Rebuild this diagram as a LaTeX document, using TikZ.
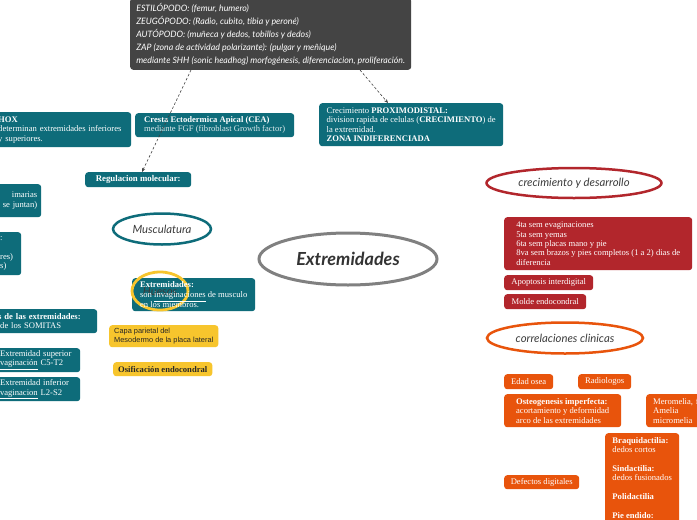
\documentclass[tikz,border=0pt]{standalone}
\usepackage{fontspec}
\setmainfont{Liberation Serif}
\newfontfamily\handf{Lato}
\newfontfamily\sansf{Liberation Sans}
\usetikzlibrary{shapes.geometric,arrows.meta,calc}
\pgfdeclarelayer{bg}
\pgfsetlayers{bg,main}
\definecolor{tealc}{RGB}{14,108,122}
\definecolor{tlight}{RGB}{100,168,180}
\definecolor{redc}{RGB}{178,38,44}
\definecolor{orc}{RGB}{232,84,12}
\definecolor{orlight}{RGB}{249,175,135}
\definecolor{yelc}{RGB}{247,197,45}
\definecolor{yellight}{RGB}{250,224,150}
\definecolor{dkbox}{RGB}{68,68,68}
\definecolor{grayc}{RGB}{128,128,128}
\definecolor{txtc}{RGB}{60,60,60}
\begin{document}
\begin{tikzpicture}[x=1pt,y=-1pt,
  box/.style={rounded corners=3pt, anchor=north west, inner xsep=5pt, inner ysep=0pt, align=left, text=white, font=\fontsize{8.6}{9.4}\selectfont},
  tbox/.style={box, fill=tealc},
  rbox/.style={box, fill=redc},
  obox/.style={box, fill=orc},
  ybox/.style={box, fill=yelc, text=black!85},
  handtxt/.style={font=\handf\itshape\fontsize{11.3}{13}\selectfont, text=txtc},
  tline/.style={draw=tlight, line width=0.7pt},
  tthick/.style={draw=tealc, line width=1.6pt},
  yline/.style={draw=yelc, line width=1.8pt},
  ylight/.style={draw=yellight, line width=1.2pt},
  rline/.style={draw=redc, line width=0.8pt},
  rthick/.style={draw=redc, line width=1.8pt},
  oline/.style={draw=orc, line width=0.9pt},
  othick/.style={draw=orc, line width=1.8pt},
  olight/.style={draw=orlight, line width=1.3pt},
  dasharr/.style={draw=black!75, line width=0.6pt, dash pattern=on 2.5pt off 2pt, -{Stealth[length=4pt,width=3.2pt]}}
]
\clip (0,0) rectangle (697,520);
\fill[white] (0,0) rectangle (697,520);

% ---------- top dark box ----------
\node[fill=dkbox, rounded corners=3pt, anchor=south west, inner xsep=4pt, inner ysep=5pt, minimum width=281pt, align=left, text=white, font=\handf\itshape\fontsize{8.8}{13}\selectfont] (dk) at (130,70)
 {ESTILÓPODO: (femur, humero)\\ZEUGÓPODO: (Radio, cubito, tibia y peroné)\\AUTÓPODO: (muñeca y dedos, tobillos y dedos)\\ZAP (zona de actividad polarizante): (pulgar y meñique)\\mediante SHH (sonic headhog) morfogénesis, diferenciacion, proliferación.};

% ---------- teal boxes ----------
\node[tbox, minimum width=106pt, minimum height=15pt, align=center, font=\fontsize{8.8}{9.4}\selectfont] (reg) at (85,172) {\textbf{Regulacion molecular:}};
\node[tbox, minimum height=35pt, text width=128.5pt, inner xsep=4.5pt] (hox) at (-6.5,112) {\textbf{HOX}\\determinan extremidades inferiores\\y superiores.};
\node[tbox, minimum width=159pt, minimum height=24pt] (cea) at (135,113) {\textbf{Cresta Ectodermica Apical (CEA)}\\{\color{white!85!tealc}mediante FGF (fibroblast Growth factor)}};
\node[tbox, minimum width=184pt, minimum height=43pt, inner xsep=3.5pt] (crec) at (319,103) {Crecimiento \textbf{PROXIMODISTAL:}\\division rapida de celulas (\textbf{CRECIMIENTO}) de\\la extremidad.\\\textbf{ZONA INDIFERENCIADA}};

\node[tbox, minimum height=33pt, text width=41pt, inner xsep=4pt, align=right] (lb1) at (-8,184) {imarias\\se juntan)};
\node[tbox, minimum height=43pt, text width=17pt, inner xsep=4pt] (lb2) at (-4,232) {:\\[9.4pt]res)\\s)};
\node[tbox, minimum height=24pt, text width=94pt, inner xsep=5pt] (lb3) at (-7,309) {\textbf{s de las extremidades:}\\\hspace*{2pt}de los SOMITAS};
\node[tbox, minimum height=24pt, text width=77pt, inner xsep=3pt] (lb4) at (-3,348) {Extremidad superior\\\hspace*{-4pt}\underline{evaginación} C5-T2};
\node[tbox, minimum height=24pt, text width=77pt, inner xsep=3pt] (lb5) at (-3,377) {Extremidad inferior\\\hspace*{-4pt}\underline{evaginacion} L2-S2};

% ---------- ellipses ----------
\node[ellipse, draw=grayc, line width=3pt, fill=white, minimum width=178pt, minimum height=52pt, inner sep=0pt, font=\handf\bfseries\itshape\fontsize{18}{20}\selectfont, text=black!80] (ext) at (348,259) {Extremidades};
\node[ellipse, draw=tealc, line width=2.5pt, fill=white, minimum width=98pt, minimum height=31pt, inner sep=0pt, handtxt] (mus) at (162,229) {Musculatura};

% ---------- Extremidades box with Huesos ----------
\node[tbox, minimum width=123pt, minimum height=33pt] (ebox) at (132,278) {};
\node[ellipse, draw=yelc, line width=2.8pt, minimum width=56pt, minimum height=38pt, inner sep=0pt, handtxt] (hue) at (160,291) {Huesos};
\node[align=left, text=white, inner sep=0pt, font=\fontsize{8.6}{10}\selectfont] (ebt) at (ebox.center) {\textbf{Extremidades:}\\son \underline{invaginaciones} de musculo\\en los miembros.};

\node[ybox, minimum width=108pt, minimum height=22pt, font=\sansf\fontsize{7.4}{8.7}\selectfont] (capa) at (109,325) {Capa parietal del\\Mesodermo de la placa lateral};
\node[ybox, minimum width=99pt, minimum height=14pt] (osif) at (113,362) {\textbf{Osificación endocondral}};

% ---------- right side ----------
\node[ellipse, draw=redc, line width=2.5pt, fill=white, minimum width=175pt, minimum height=30pt, inner sep=0pt, handtxt] (cd) at (574,183) {crecimiento y desarrollo};
\node[rbox, minimum width=188pt, minimum height=53pt, inner xsep=4pt] (r1) at (504,217) {4ta sem evaginaciones\\5ta sem yemas\\6ta sem placas mano y pie\\8va sem brazos y pies completos (1 a 2) dias de\\diferencia};
\node[rbox, minimum width=89pt, minimum height=15pt, inner xsep=4pt] (r2) at (504,275) {Apoptosis interdigital};
\node[rbox, minimum width=82pt, minimum height=15pt, inner xsep=4pt] (r3) at (504,294) {Molde endocondral};

\node[ellipse, draw=orc, line width=2.5pt, fill=white, minimum width=156pt, minimum height=31pt, inner sep=0pt, handtxt] (cc) at (565,338) {correlaciones clinicas};
\node[obox, minimum width=49pt, minimum height=15pt, inner xsep=3pt] (eo) at (504,374) {Edad osea};
\node[obox, minimum width=53pt, minimum height=15pt, inner xsep=3pt] (rad) at (578,374) {Radiologos};
\node[obox, minimum width=117pt, minimum height=33pt, inner xsep=4pt] (oi) at (504,394) {\textbf{Osteogenesis imperfecta:}\\acortamiento y deformidad\\arco de las extremidades};
\node[obox, minimum height=33pt, text width=110pt, inner xsep=7pt] (mer) at (646,394) {Meromelia, focomelia\\Amelia\\micromelia};
\node[obox, minimum width=75pt, minimum height=14pt, inner xsep=3pt] (dd) at (504,475) {Defectos digitales};
\node[obox, minimum width=74pt, inner xsep=4pt, inner ysep=4pt] (big) at (605,433) {\textbf{Braquidactilia:}\\dedos cortos\\[9.4pt]\textbf{Sindactilia:}\\dedos fusionados\\[9.4pt]\textbf{Polidactilia}\\[9.4pt]\textbf{Pie endido:}\\\mbox{}\\\mbox{}};

\coordinate (cdb) at (490,203);
\coordinate (ccb) at (490,360);
\coordinate (off1) at (506,545);
\coordinate (off2) at (506,610);

% ---------- dashed arrows ----------
\draw[dasharr] ([xshift=61pt]dk.south west) -- ([xshift=57pt]reg.north west);
\draw[dasharr] ([xshift=230pt]dk.south west) -- ([xshift=69pt]crec.north west);

% ---------- connectors ----------
\begin{pgfonlayer}{bg}
\draw[tline, rounded corners=8pt] ([xshift=68.5pt]hox.south west) |- ($([xshift=53pt]reg.north west)+(0,-11)$) -- ([xshift=53pt]reg.north west);
\draw[tline, rounded corners=8pt] ([xshift=78pt]cea.south west) |- ($([xshift=53pt]reg.north west)+(0,-11)$) -- ([xshift=53pt]reg.north west);
\draw[tline] (cea.east) -- (cea.east -| crec.west);
\draw[tline] ([xshift=5pt]reg.south) -- (mus);
\draw[tline] ([yshift=-9.5pt]lb1.east) -- (mus.175);
\draw[tline] ([xshift=-4pt]lb1.south east) to[out=-90,in=0] (lb2.east);
\draw[tline] ([xshift=56pt]lb3.north west) -- (mus.-148);
\draw[tline] ([xshift=-4pt]lb3.south east) to[out=-90,in=0] (lb4.east);
\draw[tline] ([xshift=-4pt]lb3.south east) to[out=-90,in=0] (lb5.east);
\draw[tline] (mus.-70) -- ([xshift=50pt]ebox.north west);
\draw[tthick] (mus.east) to[out=0,in=165] (ext.169);
\draw[yline] (ext.-165) to[out=195,in=10] (hue.east);
\draw[ylight] (hue.south) -- (hue.south |- capa.north);
\draw[ylight] (capa.south) -- (capa.south |- osif.north);

\draw[rthick] (ext.25) to[out=55,in=180] (cd.west);
\draw[rline] (cdb) to[out=-90,in=180,out distance=22pt,in distance=8pt] (r1.west);
\draw[rline] (cdb) to[out=-90,in=180,out distance=50pt,in distance=8pt] (r2.west);
\draw[rline] (cdb) to[out=-90,in=180,out distance=70pt,in distance=8pt] (r3.west);

\draw[othick] (ext.-25) to[out=-55,in=180] (cc.west);
\draw[oline] (ccb) to[out=-90,in=180,out distance=14pt,in distance=8pt] (eo.west);
\draw[oline] (ccb) to[out=-90,in=180,out distance=36pt,in distance=8pt] (oi.west);
\draw[oline] (ccb) to[out=-90,in=180,out distance=95pt,in distance=8pt] (dd.west);
\draw[othick] (ccb) to[out=-90,in=180,out distance=150pt,in distance=8pt] (off1);
\draw[othick] (ccb) to[out=-90,in=180,out distance=200pt,in distance=8pt] (off2);
\draw[olight] (eo.east) -- (rad.west);
\draw[olight] (oi.east) -- (oi.east -| mer.west);
\draw[olight] (dd.east) -- (dd.east -| big.west);
\end{pgfonlayer}
\end{tikzpicture}
\end{document}
